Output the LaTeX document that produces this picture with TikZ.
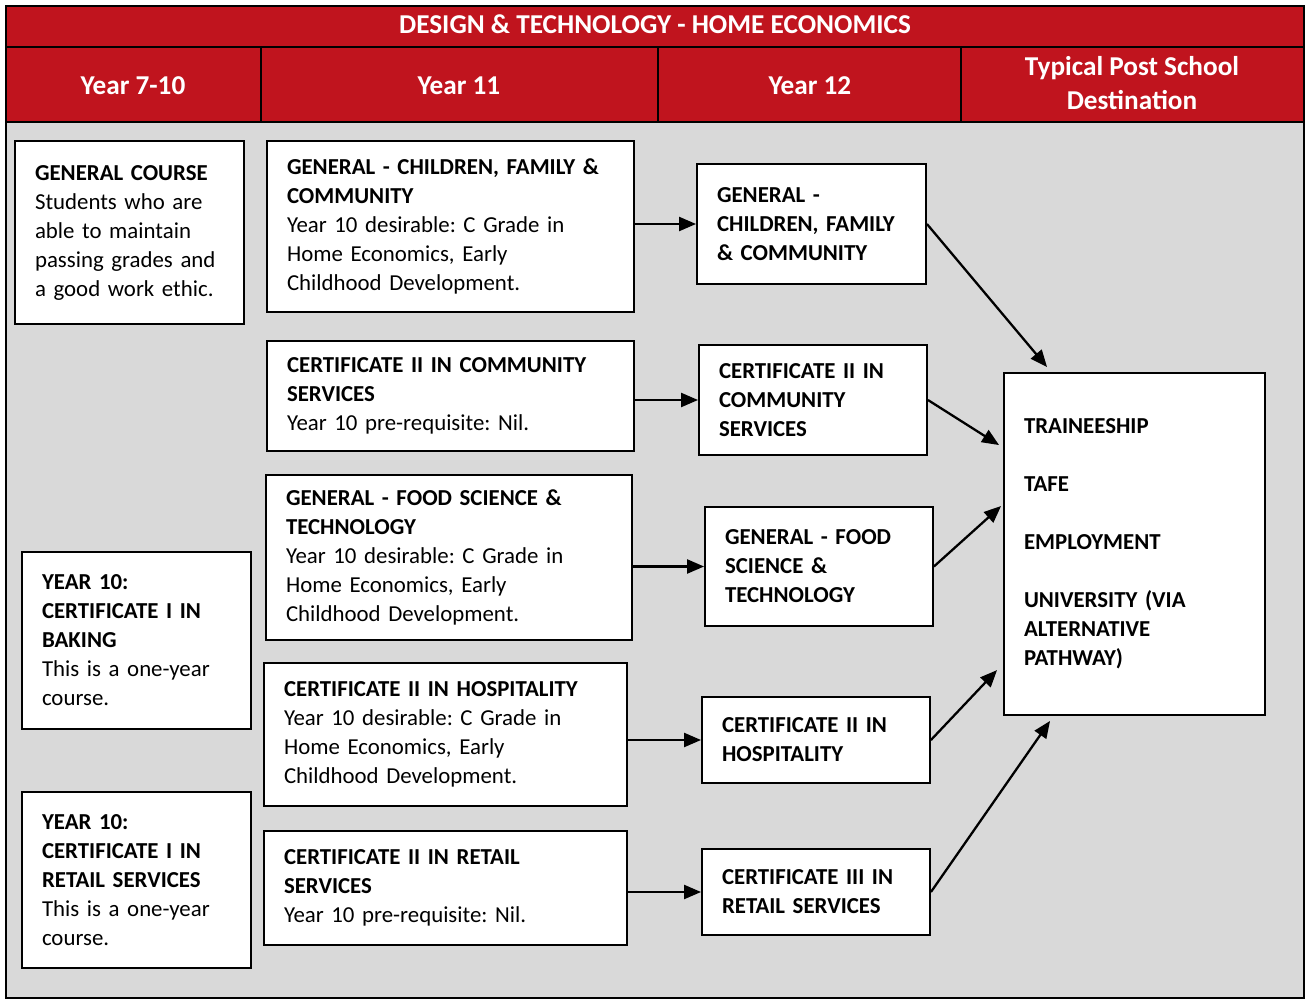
\documentclass[tikz,border=0pt]{standalone}
\usepackage{fontspec}
\setmainfont{Carlito}
\frenchspacing
\usetikzlibrary{arrows.meta,calc}
\definecolor{headred}{HTML}{C0141E}
\definecolor{panelgrey}{HTML}{D9D9D9}

\begin{document}
\begin{tikzpicture}[x=0.02cm,y=-0.02cm]
\tikzset{every node/.style={font=\fontsize{13}{16.5}\selectfont},
  box/.style={draw, fill=white, line width=1.1pt, align=left, inner xsep=0.4cm, inner ysep=0pt},
  head/.style={text=white, font=\fontsize{15.5}{19}\selectfont\bfseries, align=center},
  arr/.style={-{Triangle[length=0.34cm,width=0.28cm]}, line width=1.3pt}}

\useasboundingbox (0,0) rectangle (1306,1000);

% Table frame and header
\fill[headred] (6,6) rectangle (1304,122);
\fill[panelgrey] (6,122) rectangle (1304,998);
\draw[line width=1.1pt] (6,6) rectangle (1304,998);
\draw[line width=1.1pt] (6,47) -- (1304,47);
\draw[line width=1.1pt] (6,122) -- (1304,122);
\draw[line width=1.1pt] (261,47) -- (261,122);
\draw[line width=1.1pt] (658,47) -- (658,122);
\draw[line width=1.1pt] (961,47) -- (961,122);

\node[head] at (655,24) (title) {DESIGN \& TECHNOLOGY - HOME ECONOMICS};
\node[head] at (133,86) (y710) {Year 7-10};
\node[head] at (459,86) (y11) {Year 11};
\node[head] at (810,86) (y12) {Year 12};
\node[head] at (1132,83) (post) {Typical Post School\\Destination};

% Nodes for Year 7-10
\node[box, text width=3.78cm, minimum height=3.66cm] at (129.5,232.5) (gen) {\textbf{GENERAL COURSE}\\Students who are\\able to maintain\\passing grades and\\a good work ethic.\\[4pt]};
\node[box, text width=3.78cm, minimum height=3.54cm] at (136.5,640.5) (bak) {\textbf{YEAR 10:}\\\textbf{CERTIFICATE I IN}\\\textbf{BAKING}\\This is a one-year\\course.};
\node[box, text width=3.78cm, minimum height=3.52cm] at (136.5,880) (ret) {\textbf{YEAR 10:}\\\textbf{CERTIFICATE I IN}\\\textbf{RETAIL SERVICES}\\This is a one-year\\course.};

% Nodes for Year 11
\node[box, text width=6.54cm, minimum height=3.42cm] at (450.5,226.5) (famA) {\textbf{GENERAL - CHILDREN, FAMILY \&}\\\textbf{COMMUNITY}\\Year 10 desirable: C Grade in\\Home Economics, Early\\Childhood Development.};
\node[box, text width=6.54cm, minimum height=2.2cm] at (450.5,396) (comA) {\textbf{CERTIFICATE II IN COMMUNITY}\\\textbf{SERVICES}\\Year 10 pre-requisite: Nil.};
\node[box, text width=6.52cm, minimum height=3.3cm] at (449,557.5) (foodA) {\textbf{GENERAL - FOOD SCIENCE \&}\\\textbf{TECHNOLOGY}\\Year 10 desirable: C Grade in\\Home Economics, Early\\Childhood Development.};
\node[box, text width=6.46cm, minimum height=2.86cm] at (445.5,734.5) (hospA) {\textbf{CERTIFICATE II IN HOSPITALITY}\\Year 10 desirable: C Grade in\\Home Economics, Early\\Childhood Development.};
\node[box, text width=6.46cm, minimum height=2.28cm] at (445.5,888) (retA) {\textbf{CERTIFICATE II IN RETAIL}\\\textbf{SERVICES}\\Year 10 pre-requisite: Nil.};

% Nodes for Year 12
\node[box, text width=3.78cm, minimum height=2.4cm, font=\fontsize{13}{16.5}\selectfont\bfseries] at (811.5,224) (famB) {GENERAL -\\CHILDREN, FAMILY\\\& COMMUNITY};
\node[box, text width=3.76cm, minimum height=2.2cm, font=\fontsize{13}{16.5}\selectfont\bfseries] at (813,400) (comB) {CERTIFICATE II IN\\COMMUNITY\\SERVICES};
\node[box, text width=3.76cm, minimum height=2.38cm, font=\fontsize{13}{16.5}\selectfont\bfseries] at (819,566.5) (foodB) {GENERAL - FOOD\\SCIENCE \&\\TECHNOLOGY};
\node[box, text width=3.76cm, minimum height=1.72cm, font=\fontsize{13}{16.5}\selectfont\bfseries] at (816,740) (hospB) {CERTIFICATE II IN\\HOSPITALITY};
\node[box, text width=3.76cm, minimum height=1.72cm, font=\fontsize{13}{16.5}\selectfont\bfseries] at (816,892) (retB) {CERTIFICATE III IN\\RETAIL SERVICES};

% Node for destination
\node[box, text width=4.42cm, minimum height=6.84cm, font=\fontsize{13}{16.5}\selectfont\bfseries] at (1134.5,544) (dest) {TRAINEESHIP\\[16.5pt]TAFE\\[16.5pt]EMPLOYMENT\\[16.5pt]UNIVERSITY (VIA\\ALTERNATIVE\\PATHWAY)};

% Arrows Year 11 to Year 12
\draw[arr] (famA.east |- famB.west) -- (famB.west);
\draw[arr] (comA.east |- comB.west) -- (comB.west);
\draw[arr] (foodA.east |- foodB.west) -- (foodB.west);
\draw[arr] (hospA.east |- hospB.west) -- (hospB.west);
\draw[arr] (retA.east |- retB.west) -- (retB.west);

% Arrows Year 12 to destination
\draw[arr] (famB.east) -- ($(dest.north west)+(44,-5)$);
\draw[arr] (comB.east) -- ($(dest.north west)+(-4,73)$);
\draw[arr] (foodB.east) -- ($(dest.north west)+(-2,134)$);
\draw[arr] (hospB.east) -- ($(dest.north west)+(-6,298)$);
\draw[arr] (retB.east) -- ($(dest.south west)+(47,5)$);
\end{tikzpicture}
\end{document}
